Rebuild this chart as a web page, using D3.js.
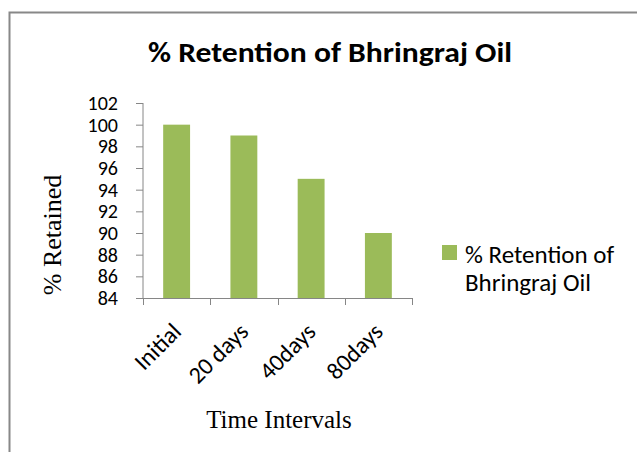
<!DOCTYPE html>
<html>
<head>
<meta charset="utf-8">
<script src="https://cdn.jsdelivr.net/npm/d3@7"></script>
<style>
  body { margin: 0; background: #fff; }
  svg { display: block; }
</style>
</head>
<body>
<svg width="637" height="452"></svg>
<script>
const categories = ['Initial', '20 days', '40days', '80days']
const retained = [100, 99, 95, 90]
const yTicks = [84, 86, 88, 90, 92, 94, 96, 98, 100, 102]
const seriesName = ['% Retention of', 'Bhringraj Oil']

const svg = d3.select('svg')
const sans = 'Carlito, Lato, "Open Sans", sans-serif'
const serif = '"Liberation Serif", "DejaVu Serif", serif'
const axisColor = '#868686'
const barColor = '#9bbb59'

// chart frame (only top and left edges are in view)
svg.append('path')
  .attr('d', 'M9.5,460 V12.5 H650')
  .attr('fill', 'none')
  .attr('stroke', '#888')
  .attr('stroke-width', 2)

svg.append('text')
  .attr('x', 330).attr('y', 62)
  .attr('text-anchor', 'middle')
  .attr('font-family', sans)
  .attr('font-weight', 'bold')
  .attr('font-size', 28)
  .attr('textLength', 364)
  .attr('lengthAdjust', 'spacingAndGlyphs')
  .text('% Retention of Bhringraj Oil')

const x = d3.scaleBand().domain(categories).range([143, 412]).paddingInner(0.6).paddingOuter(0.3)
const y = d3.scaleLinear().domain([84, 102]).range([298, 103])

const yAxis = svg.append('g')
  .attr('transform', 'translate(143,0)')
  .call(d3.axisLeft(y).tickValues(yTicks).tickSize(7).tickPadding(18))
yAxis.selectAll('line, path').attr('stroke', axisColor)
yAxis.select('path').attr('d', `M0,${y(102)}V${y(84)}`)
yAxis.selectAll('text')
  .attr('font-family', sans).attr('font-size', 20).attr('fill', '#000')

const bandStep = (412 - 143) / categories.length
svg.selectAll('rect.bar').data(retained).enter().append('rect')
  .attr('class', 'bar')
  .attr('x', (d, i) => x(categories[i]))
  .attr('y', d => y(d))
  .attr('width', x.bandwidth())
  .attr('height', d => y(84) - y(d))
  .attr('fill', barColor)

// x axis line with tick marks at band boundaries
const xg = svg.append('g')
xg.append('line')
  .attr('x1', 136).attr('x2', 412).attr('y1', 298.5).attr('y2', 298.5)
  .attr('stroke', axisColor)
xg.selectAll('line.tick').data(d3.range(categories.length + 1)).enter().append('line')
  .attr('class', 'tick')
  .attr('x1', i => Math.round(143 + i * bandStep) + 0.5)
  .attr('x2', i => Math.round(143 + i * bandStep) + 0.5)
  .attr('y1', 298).attr('y2', 305)
  .attr('stroke', axisColor)

xg.selectAll('text').data(categories).enter().append('text')
  .attr('transform', d => `translate(${x(d) + x.bandwidth() / 2 + 6},${333}) rotate(-45)`)
  .attr('text-anchor', 'end')
  .attr('font-family', sans)
  .attr('font-size', 24)
  .text(d => d)

svg.append('text')
  .attr('x', 279).attr('y', 428)
  .attr('text-anchor', 'middle')
  .attr('font-family', serif)
  .attr('font-size', 25)
  .text('Time Intervals')

svg.append('text')
  .attr('transform', 'translate(61,235) rotate(-90)')
  .attr('text-anchor', 'middle')
  .attr('font-family', serif)
  .attr('font-size', 26)
  .text('% Retained')

// legend
svg.append('rect')
  .attr('x', 442).attr('y', 245).attr('width', 15).attr('height', 15)
  .attr('fill', barColor)
svg.selectAll('text.legend').data(seriesName).enter().append('text')
  .attr('class', 'legend')
  .attr('x', 465).attr('y', (d, i) => 263 + i * 28)
  .attr('font-family', sans)
  .attr('font-size', 25)
  .text(d => d)
</script>
</body>
</html>
